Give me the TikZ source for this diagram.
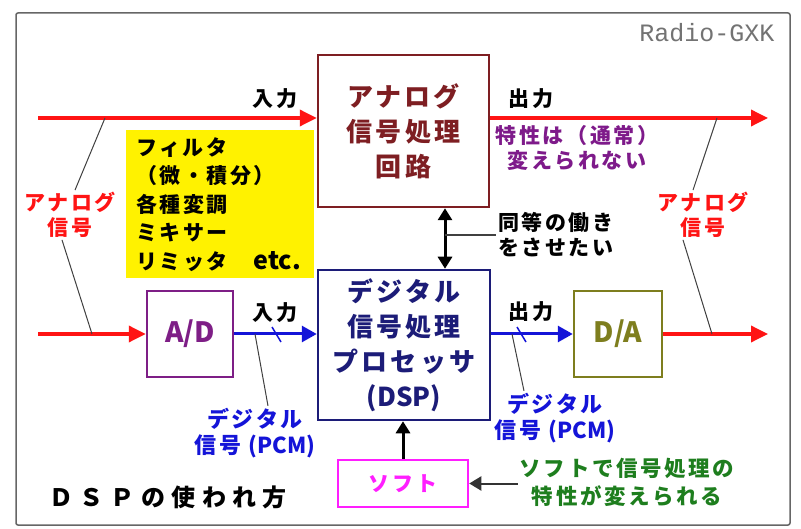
\documentclass[tikz,border=0pt]{standalone}
\usepackage{fontspec}
\setmainfont{Noto Sans CJK JP}[LetterSpace=12]
\newfontfamily\latn{Noto Sans CJK JP}
\newfontfamily\titlefont{Noto Sans CJK JP}[LetterSpace=28]
\newfontfamily\monofont{Liberation Mono}
\usetikzlibrary{arrows.meta}

\definecolor{sigred}{HTML}{FF1414}
\definecolor{anared}{HTML}{7E1E22}
\definecolor{dspblue}{HTML}{1C1C78}
\definecolor{digblue}{HTML}{1414D8}
\definecolor{adpurple}{HTML}{7E1E86}
\definecolor{daolive}{HTML}{7E7E1E}
\definecolor{softpink}{HTML}{FF1EFF}
\definecolor{notepurple}{HTML}{7E1A8A}
\definecolor{notegreen}{HTML}{1E7E1E}

\begin{document}
\begin{tikzpicture}[x=1pt,y=-1pt,>={Triangle[length=12pt,width=14pt]},
    box/.style={draw,line width=2.5pt,inner sep=0pt,align=center},
    boxfont/.style={font=\fontsize{26}{35}\selectfont\bfseries},
    lbl/.style={font=\fontsize{21}{25}\selectfont\bfseries,inner sep=2pt,align=center},
    sig/.style={sigred,line width=3.5pt,-{Triangle[length=17pt,width=16pt]}},
    dig/.style={digblue,line width=3pt,-{Triangle[length=15pt,width=16pt]}},
    blk/.style={black,line width=3pt},
    lead/.style={black!75,line width=1pt}]

  \useasboundingbox (0,0) rectangle (801,529);
  \fill[white] (0,0) rectangle (801,529);
  \draw[black!60,line width=1.5pt,rounded corners=2pt] (16,13) rectangle (790,525);

  \node[anchor=east,black!55,font=\fontsize{25}{30}\monofont] (brand) at (778,33) {Radio-GXK};

  % Bloecke
  \node[box,boxfont,draw=anared,text=anared,minimum width=171,minimum height=152] (ana) at (403.5,131) {アナログ\\信号処理\\回路};
  \node[box,boxfont,draw=dspblue,text=dspblue,minimum width=172,minimum height=150] (dsp) at (404,345) {デジタル\\信号処理\\プロセッサ\\{\latn (DSP)}};
  \node[box,draw=adpurple,text=adpurple,minimum width=86,minimum height=86,font=\fontsize{28}{30}\latn\bfseries] (ad) at (190,334) {A/D};
  \node[box,draw=daolive,text=daolive,minimum width=88,minimum height=86,font=\fontsize{28}{30}\latn\bfseries] (da) at (618,334) {D/A};
  \node[box,draw=softpink,text=softpink,minimum width=130,minimum height=47,font=\fontsize{21}{25}\selectfont\bfseries] (soft) at (403,483.5) {ソフト};

  \node[fill=yellow,anchor=north west,minimum width=184,minimum height=148,text width=168,inner xsep=10pt,inner ysep=4pt,align=left,
        font=\fontsize{21}{28.5}\selectfont\bfseries] (fil) at (126,130)
    {フィルタ\\（微・積分）\\各種変調\\ミキサー\\リミッタ\hspace{26pt}{\latn\fontsize{25}{28.5}\selectfont etc.}};

  % Signalwege
  \coordinate (inA) at (38,118);
  \coordinate (outA) at (768,118);
  \coordinate (inD) at (38,334);
  \coordinate (outD) at (768,334);
  \draw[sig] (inA) -- (inA -| ana.west);
  \draw[sig] (ana.east |- outA) -- (outA);
  \draw[sig] (inD) -- (ad.west);
  \draw[sig] (da.east) -- (outD);
  \draw[dig] (ad.east) -- (ad.east -| dsp.west);
  \draw[dig] (dsp.east |- da.west) -- (da.west);
  \draw[digblue,line width=1.5pt] (272,327) -- (281,342);
  \draw[digblue,line width=1.5pt] (517,327) -- (526,342);

  \node[lbl] (in1) at (275,99) {入力};
  \node[lbl] (out1) at (531,99) {出力};
  \node[lbl] (in2) at (275,313) {入力};
  \node[lbl] (out2) at (531,312) {出力};

  \node[lbl,text=notepurple] (fixed) at (577,148) {特性は（通常）\\変えられない};

  % analoge Signale
  \node[lbl,text=sigred] (lsig) at (70,215) {アナログ\\信号};
  \node[lbl,text=sigred] (rsig) at (703,215) {アナログ\\信号};
  \coordinate (lt) at (105,118);
  \coordinate (lb) at (92,334);
  \coordinate (rt) at (717,118);
  \coordinate (rb) at (712,334);
  \draw[lead] ([xshift=5]lsig.north) -- (lt);
  \draw[lead] ([xshift=-8]lsig.south) -- (lb);
  \draw[lead] ([xshift=-10]rsig.north) -- (rt);
  \draw[lead] ([xshift=-20]rsig.south) -- (rb);

  % digitale Signale
  \node[lbl,text=digblue,font=\fontsize{22}{26}\selectfont\bfseries] (pcm1) at (255,433) {デジタル\\信号 {\latn (PCM)}};
  \node[lbl,text=digblue,font=\fontsize{22}{26}\selectfont\bfseries] (pcm2) at (555,418) {デジタル\\信号 {\latn (PCM)}};
  \coordinate (p1) at (255,334);
  \coordinate (p2) at (512,334);
  \draw[lead] (p1) -- ([xshift=13]pcm1.north);
  \draw[lead] (p2) -- ([xshift=-31]pcm2.north);

  % gleiche Funktion
  \node[lbl,anchor=west] (same) at (496,235) {同等の働き\\をさせたい};
  \coordinate (bi) at (445,0);
  \draw[blk,<->] (bi |- ana.south) -- (bi |- dsp.north);
  \draw[lead,line width=1.5pt] (bi |- same.west) -- (same.west);

  % Software
  \node[lbl,text=notegreen,font=\fontsize{21.5}{28}\selectfont\bfseries] (prog) at (627,482) {ソフトで信号処理の\\特性が変えられる};
  \draw[blk,->] (soft.north) -- (soft.north |- dsp.south);
  \draw[black!80,line width=2pt,->] (prog.west |- soft.east) -- (soft.east);

  \node[font=\fontsize{24}{28}\titlefont\bfseries] (title) at (168,497) {ＤＳＰの使われ方};
\end{tikzpicture}
\end{document}
